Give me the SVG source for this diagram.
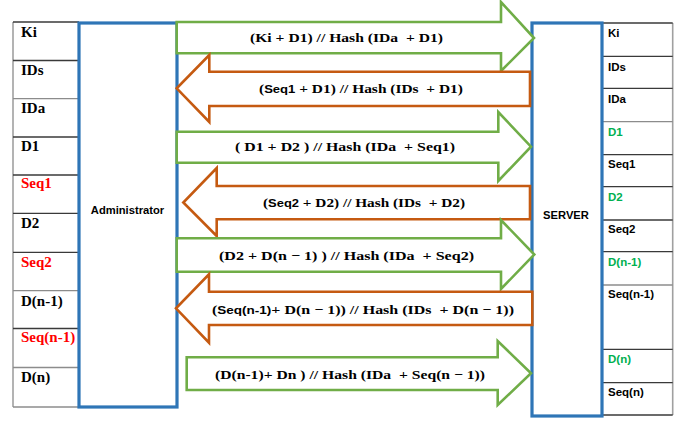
<svg xmlns="http://www.w3.org/2000/svg" width="688" height="422" viewBox="0 0 688 422">
<style>
.bg{fill:#ffffff}
.row{stroke:#3a3a3a;stroke-width:1.3}
.rowl{stroke:#8c8c8c;stroke-width:1.3}
.edge{stroke:#a0a0a0;stroke-width:1.6}
.box{fill:#ffffff;stroke:#2E75B6;stroke-width:3.2}
.ga{fill:#ffffff;stroke:#70AD47;stroke-width:2.6;stroke-linejoin:miter}
.oa{fill:#ffffff;stroke:#C55A11;stroke-width:2.6;stroke-linejoin:miter}
.lt{font-family:"Liberation Serif","Times New Roman",serif;font-weight:bold;font-size:15px;fill:#000}
.rt{font-family:"Liberation Sans",Arial,sans-serif;font-weight:bold;font-size:11.5px;fill:#000}
.red{fill:#FF0000}
.grn{fill:#00B050}
.bt{font-family:"Liberation Sans",Arial,sans-serif;font-weight:bold;font-size:11.2px;fill:#000}
.at{font-family:"Liberation Serif","Times New Roman",serif;font-weight:bold;font-size:13px;fill:#000;white-space:pre}
.sa{font-family:"Liberation Sans",Arial,sans-serif;font-size:11px}
</style>
<rect class="bg" x="0" y="0" width="688" height="422"/>

<g id="admin-table">
  <line class="edge" x1="13" y1="22" x2="13" y2="407"/>
  <line class="row" x1="13" y1="22" x2="79" y2="22"/>
  <line class="row" x1="13" y1="60.5" x2="79" y2="60.5"/>
  <line class="rowl" x1="13" y1="98.7" x2="79" y2="98.7"/>
  <line class="row" x1="13" y1="137" x2="79" y2="137"/>
  <line class="row" x1="13" y1="175" x2="79" y2="175"/>
  <line class="row" x1="13" y1="213.3" x2="79" y2="213.3"/>
  <line class="row" x1="13" y1="252.3" x2="79" y2="252.3"/>
  <line class="rowl" x1="13" y1="290.7" x2="79" y2="290.7"/>
  <line class="row" x1="13" y1="328.5" x2="79" y2="328.5"/>
  <line class="rowl" x1="13" y1="367.5" x2="79" y2="367.5"/>
  <line class="rowl" x1="13" y1="407" x2="79" y2="407"/>
  <text class="lt" x="21" y="37">Ki</text>
  <text class="lt" x="21" y="75">IDs</text>
  <text class="lt" x="21" y="113.3">IDa</text>
  <text class="lt" x="21" y="150.5">D1</text>
  <text class="lt red" x="21" y="188">Seq1</text>
  <text class="lt" x="21" y="228">D2</text>
  <text class="lt red" x="21" y="266.5">Seq2</text>
  <text class="lt" x="21" y="305.5">D(n-1)</text>
  <text class="lt red" x="21" y="342">Seq(n-1)</text>
  <text class="lt" x="21" y="381.5">D(n)</text>
</g>

<g id="server-table">
  <line class="edge" x1="672.7" y1="23" x2="672.7" y2="415"/>
  <line class="row" x1="602" y1="23" x2="672.7" y2="23"/>
  <line class="row" x1="602" y1="56.3" x2="672.7" y2="56.3"/>
  <line class="row" x1="602" y1="88.3" x2="672.7" y2="88.3"/>
  <line class="rowl" x1="602" y1="121.7" x2="672.7" y2="121.7"/>
  <line class="row" x1="602" y1="154.7" x2="672.7" y2="154.7"/>
  <line class="row" x1="602" y1="186.7" x2="672.7" y2="186.7"/>
  <line class="row" x1="602" y1="220" x2="672.7" y2="220"/>
  <line class="row" x1="602" y1="251.7" x2="672.7" y2="251.7"/>
  <line class="rowl" x1="602" y1="285" x2="672.7" y2="285"/>
  <line class="row" x1="602" y1="349.3" x2="672.7" y2="349.3"/>
  <line class="row" x1="602" y1="382.7" x2="672.7" y2="382.7"/>
  <line class="row" x1="602" y1="415" x2="672.7" y2="415"/>
  <text class="rt" x="608" y="37.3">Ki</text>
  <text class="rt" x="608" y="70.5">IDs</text>
  <text class="rt" x="608" y="103.3">IDa</text>
  <text class="rt grn" x="608" y="135.7">D1</text>
  <text class="rt" x="608" y="168">Seq1</text>
  <text class="rt grn" x="608" y="200.7">D2</text>
  <text class="rt" x="608" y="233">Seq2</text>
  <text class="rt grn" x="608" y="265.5">D(n-1)</text>
  <text class="rt" x="608" y="297.5">Seq(n-1)</text>
  <text class="rt grn" x="608" y="363">D(n)</text>
  <text class="rt" x="608" y="396">Seq(n)</text>
</g>

<g id="administrator">
  <rect class="box" x="79" y="23" width="98" height="384"/>
  <text class="bt" x="127.5" y="214" text-anchor="middle">Administrator</text>
</g>

<g id="server">
  <rect class="box" x="532" y="23" width="70" height="393"/>
  <text class="bt" x="566" y="218.5" text-anchor="middle">SERVER</text>
</g>

<g id="connectors">
  <polygon class="ga" points="176.7,22 501,22 501,2 534,38 501,71 501,53.3 176.7,53.3"/>
  <text class="at" x="346.5" y="42" text-anchor="middle" textLength="193" lengthAdjust="spacingAndGlyphs">(Ki + D1) // Hash (IDa  + D1)</text>

  <polygon class="oa" points="530,71.7 209.3,71.7 209.3,55 176.7,88.3 209.3,122 209.3,106 530,106"/>
  <text class="at" x="361" y="92.5" text-anchor="middle" textLength="204" lengthAdjust="spacingAndGlyphs">(<tspan class="sa">Seq1</tspan> + D1) // Hash (IDs  + D1)</text>

  <polygon class="ga" points="176.7,131.7 498.3,131.7 498.3,112 531,146.7 498.3,181 498.3,162.7 176.7,162.7"/>
  <text class="at" x="345" y="151" text-anchor="middle" textLength="220" lengthAdjust="spacingAndGlyphs">( D1 + D2 ) // Hash (IDa  + Seq1)</text>

  <polygon class="oa" points="530,186 216.7,186 216.7,168 183.3,202.5 216.7,236 216.7,219.3 530,219.3"/>
  <text class="at" x="364" y="207" text-anchor="middle" textLength="202" lengthAdjust="spacingAndGlyphs">(<tspan class="sa">Seq2</tspan> + D2) // Hash (IDs  + D2)</text>

  <polygon class="ga" points="176.7,238.3 501,238.3 501,220 534.3,254.5 501,289 501,271.7 176.7,271.7"/>
  <text class="at" x="346.5" y="259.5" text-anchor="middle" textLength="255" lengthAdjust="spacingAndGlyphs">(D2 + D(n − 1) ) // Hash (IDa  + Seq2)</text>

  <polygon class="oa" points="532.3,291.7 209,291.7 209,274.3 176,308.3 209,342.7 209,325 532.3,325"/>
  <text class="at" x="363" y="313.5" text-anchor="middle" textLength="302" lengthAdjust="spacingAndGlyphs">(<tspan class="sa">Seq(n-1)</tspan>+ D(n − 1)) // Hash (IDs  + D(n − 1))</text>

  <polygon class="ga" points="186.7,357.3 497.7,357.3 497.7,341 531,373.3 497.7,405 497.7,390 186.7,390"/>
  <text class="at" x="350" y="378.5" text-anchor="middle" textLength="270" lengthAdjust="spacingAndGlyphs">(D(n-1)+ Dn ) // Hash (IDa  + Seq(n − 1))</text>
</g>
</svg>
